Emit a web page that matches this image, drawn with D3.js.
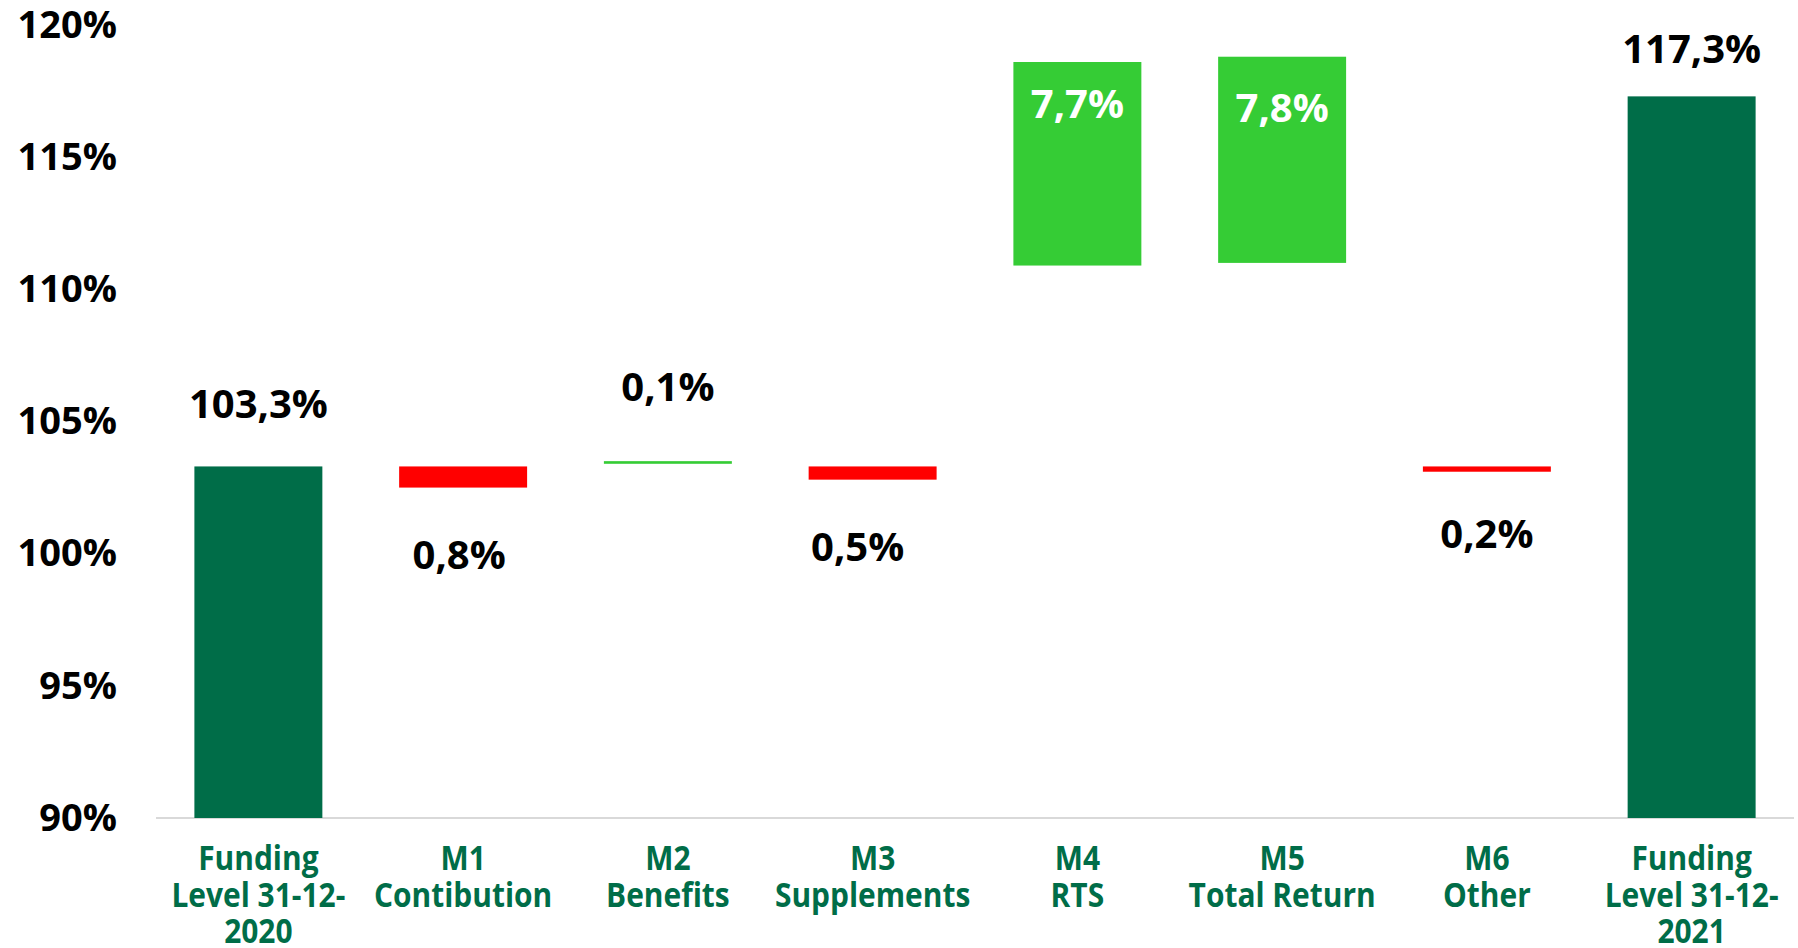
<!DOCTYPE html>
<html>
<head>
<meta charset="utf-8">
<script src="https://cdn.jsdelivr.net/npm/d3@7"></script>
<style>
  body { margin: 0; background: #fff; }
  text { font-family: "Open Sans", "DejaVu Sans", sans-serif; font-weight: bold; }
</style>
</head>
<body>
<div id="container"></div>
<script>
// categories (each line of the label is one entry)
let categories = [
  ["Funding", "Level 31-12-", "2020"],
  ["M1", "Contibution"],
  ["M2", "Benefits"],
  ["M3", "Supplements"],
  ["M4", "RTS"],
  ["M5", "Total Return"],
  ["M6", "Other"],
  ["Funding", "Level 31-12-", "2021"]
];
// floating bars: bottom and top of each visible bar (in %)
let barLow  = [90, 102.5, 103.4, 102.8, 110.9, 111.0, 103.1, 90];
let barHigh = [103.3, 103.3, 103.5, 103.3, 118.6, 118.8, 103.3, 117.3];
let barKind = ["total", "neg", "pos", "neg", "pos", "pos", "neg", "total"];
let valueLabels = ["103,3%", "0,8%", "0,1%", "0,5%", "7,7%", "7,8%", "0,2%", "117,3%"];
let yTicks = [90, 95, 100, 105, 110, 115, 120];

let w = 1798;
let h = 948;
let colors = { total: "#006d48", pos: "#35cc35", neg: "#ff0000" };
let squeeze = 0.88; // category labels are narrower than Open Sans

let viz = d3.select("#container")
  .append("svg")
    .attr("width", w)
    .attr("height", h);

let xScale = d3.scaleBand()
  .domain(d3.range(categories.length))
  .range([156, 1794])
  .paddingInner(0.375)
  .paddingOuter(0.1875);

let yScale = d3.scaleLinear().domain([90, 120]).range([818, 25]);

// baseline
viz.append("line")
  .attr("x1", 156).attr("x2", 1794)
  .attr("y1", yScale(90)).attr("y2", yScale(90))
  .attr("stroke", "#d9d9d9").attr("stroke-width", 2);

// y axis labels
let yAxis = d3.axisLeft(yScale).tickValues(yTicks).tickSize(0).tickPadding(0)
  .tickFormat(function(d){ return d + "%"; });
let yAxisGroup = viz.append("g")
  .attr("transform", "translate(117,0)")
  .call(yAxis);
yAxisGroup.select(".domain").remove();
yAxisGroup.selectAll("text")
  .attr("font-size", 38)
  .attr("font-family", null)
  .attr("fill", "#000");

// bars
viz.selectAll(".bar").data(d3.range(categories.length)).enter()
  .append("rect")
    .attr("class", "bar")
    .attr("x", function(i){ return xScale(i); })
    .attr("width", xScale.bandwidth())
    .attr("y", function(i){ return yScale(barHigh[i]); })
    .attr("height", function(i){ return yScale(barLow[i]) - yScale(barHigh[i]); })
    .attr("fill", function(i){ return colors[barKind[i]]; });

// value labels
function labelX(i){
  let cx = xScale(i) + xScale.bandwidth()/2;
  if(i == 1) return cx - 4;
  if(i == 3) return cx - 15;
  return cx;
}
function labelY(i){
  if(barKind[i] == "neg"){
    if(i == 6) return yScale(barLow[i]) + 62;
    return yScale(barLow[i]) + 67;
  }else if(i == 4){
    return yScale(barHigh[i]) + 42;
  }else if(i == 5){
    return yScale(barHigh[i]) + 51;
  }else if(i == 7){
    return yScale(barHigh[i]) - 47;
  }else if(i == 2){
    return yScale(barHigh[i]) - 74;
  }
  return yScale(barHigh[i]) - 62;
}
viz.selectAll(".vlabel").data(d3.range(categories.length)).enter()
  .append("text")
    .attr("class", "vlabel")
    .attr("x", labelX)
    .attr("y", labelY)
    .attr("dy", "0.35em")
    .attr("text-anchor", "middle")
    .attr("font-size", 40)
    .attr("fill", function(i){ return (i == 4 || i == 5) ? "#fff" : "#000"; })
    .text(function(i){ return valueLabels[i]; });

// category labels
let catGroup = viz.selectAll(".cat").data(categories).enter()
  .append("text")
    .attr("class", "cat")
    .attr("transform", "scale(" + squeeze + ",1)")
    .attr("x", function(d, i){ return (xScale(i) + xScale.bandwidth()/2) / squeeze; })
    .attr("y", 858)
    .attr("text-anchor", "middle")
    .attr("font-size", 34)
    .attr("fill", "#006d48");
catGroup.selectAll("tspan").data(function(d){ return d; }).enter()
  .append("tspan")
    .attr("x", function(){ return d3.select(this.parentNode).attr("x"); })
    .attr("dy", function(d, j){ return j == 0 ? "0.35em" : 36.7; })
    .text(function(d){ return d; });
</script>
</body>
</html>
